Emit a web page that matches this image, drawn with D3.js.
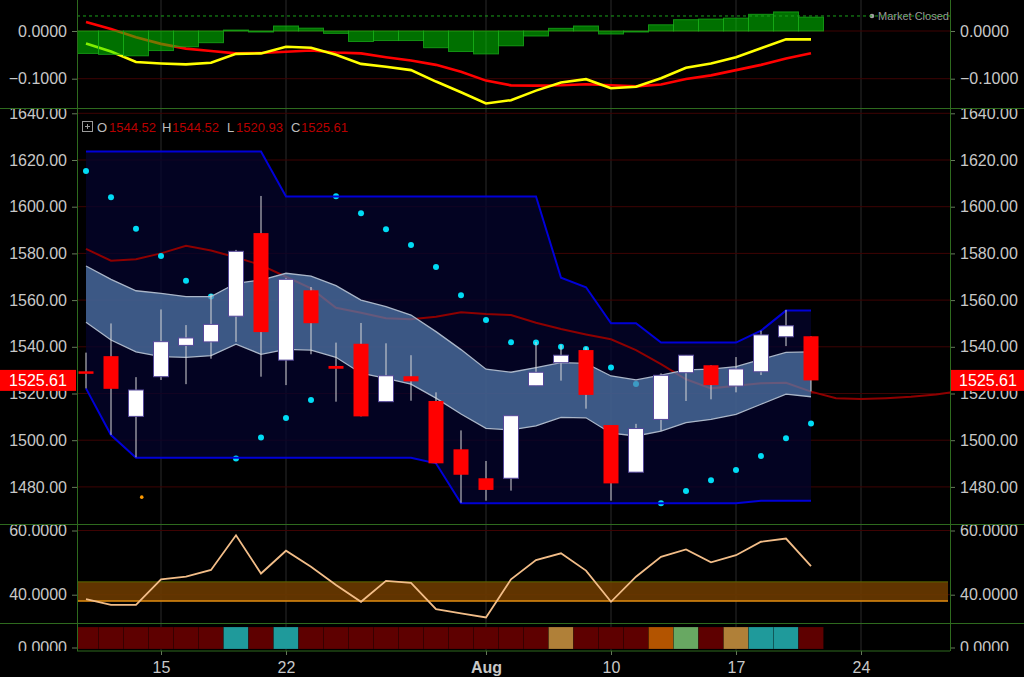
<!DOCTYPE html>
<html><head><meta charset="utf-8">
<script src="https://cdn.jsdelivr.net/npm/d3@7"></script>
<style>
html,body{margin:0;padding:0;background:#000;overflow:hidden}
svg{display:block;font-family:"Liberation Sans",Arial,sans-serif}
</style></head><body>
<svg id="c" width="1024" height="677"></svg>
<script>
// ---------------- DATA ----------------
const xTickIdx   = [3, 8, 16, 21, 26, 31];
const xTickLabel = ["15", "22", "Aug", "10", "17", "24"];

const openP  = [1529.5,1536.0,1510.2,1527.2,1540.6,1542.1,1553.1,1588.7,1534.3,1564.2,1531.8,1541.3,1516.5,1527.4,1516.8,1496.1,1483.7,1483.7,1523.3,1533.2,1538.6,1506.5,1486.3,1508.9,1528.9,1532.1,1523.2,1529.3,1544.3,1544.52];
const highP  = [1537.5,1550.0,1527.0,1556.0,1549.3,1562.6,1581.5,1604.6,1569.5,1565.6,1541.8,1550.2,1541.5,1536.4,1520.5,1504.2,1491.1,1510.5,1542.1,1540.8,1539.8,1506.5,1507.0,1528.6,1536.4,1532.1,1535.6,1546.9,1555.8,1544.52];
const lowP   = [1522.2,1502.3,1492.7,1525.8,1524.0,1534.9,1542.1,1527.2,1523.6,1536.8,1516.5,1510.2,1516.5,1516.9,1490.1,1473.2,1474.1,1478.4,1523.3,1525.5,1513.5,1474.1,1486.3,1504.0,1516.8,1517.5,1520.5,1527.9,1540.3,1520.93];
const closeP = [1528.5,1522.0,1521.5,1542.2,1543.8,1549.6,1580.9,1546.3,1568.9,1550.1,1530.6,1510.2,1527.6,1525.2,1490.1,1485.2,1478.7,1510.5,1529.1,1536.4,1519.4,1481.5,1505.0,1527.8,1536.4,1523.6,1530.5,1545.1,1549.0,1525.61];

const bbUpper = [1574.6,1568.9,1564.0,1562.9,1561.5,1561.5,1567.2,1568.6,1571.5,1570.3,1566.2,1560.0,1557.2,1553.6,1546.5,1538.8,1530.4,1529.1,1531.1,1533.2,1532.9,1527.5,1525.8,1527.9,1530.1,1530.4,1531.5,1534.6,1537.6,1537.8];
const bbLower = [1550.5,1542.9,1537.8,1535.8,1535.5,1536.2,1541.1,1536.8,1538.9,1538.6,1535.5,1528.7,1526.5,1524.0,1518.0,1511.2,1505.1,1504.4,1506.1,1509.8,1509.6,1503.0,1501.8,1503.9,1507.5,1508.9,1511.1,1515.4,1519.7,1518.6];

const dcUpper = [1623.6,1623.6,1623.6,1623.6,1623.6,1623.6,1623.6,1623.6,1604.4,1604.4,1604.4,1604.4,1604.4,1604.4,1604.4,1604.4,1604.4,1604.4,1604.4,1569.6,1565.5,1550.1,1550.1,1541.8,1541.8,1541.8,1541.8,1546.9,1555.5,1555.5];
const dcLower = [1522.2,1502.2,1492.5,1492.5,1492.5,1492.5,1492.5,1492.5,1492.5,1492.5,1492.5,1492.5,1492.5,1492.5,1490.1,1473.0,1473.0,1473.0,1473.0,1473.0,1473.0,1473.0,1473.0,1473.0,1473.0,1473.0,1473.0,1474.1,1474.1,1474.1];

const maLine = [1581.9,1576.9,1577.5,1580.0,1583.3,1581.2,1578.3,1575.0,1570.0,1565.0,1556.7,1554.6,1552.2,1551.8,1552.9,1554.8,1554.0,1553.6,1550.3,1547.6,1545.3,1543.2,1538.6,1532.6,1526.1,1522.2,1523.3,1524.4,1524.6,1520.8,1518.0,1517.6,1518.0,1518.6,1519.6,1521.0];

const sarDots = [1615.3,1604.0,1590.6,1578.9,1568.3,1561.5,1492.2,1501.2,1509.5,1517.2,1604.5,1597.2,1590.3,1583.6,1574.2,1562.1,1551.5,1541.9,1541.8,1540.0,1539.1,1531.1,1524.1,1473.0,1478.2,1482.9,1487.2,1493.2,1500.8,1507.2];

const eventIdx = [2.23];
const eventVal = [1475.6];

const macdLine   = [-0.026,-0.043,-0.065,-0.068,-0.070,-0.0665,-0.048,-0.047,-0.033,-0.035,-0.050,-0.069,-0.075,-0.082,-0.106,-0.1285,-0.152,-0.145,-0.125,-0.108,-0.101,-0.120,-0.117,-0.099,-0.077,-0.068,-0.055,-0.036,-0.0175,-0.0175];
const signalLine = [0.019,0.004,-0.013,-0.027,-0.037,-0.042,-0.047,-0.046,-0.0435,-0.041,-0.045,-0.047,-0.055,-0.062,-0.071,-0.0855,-0.104,-0.114,-0.1145,-0.1136,-0.1115,-0.1137,-0.116,-0.112,-0.1007,-0.093,-0.082,-0.071,-0.0575,-0.0465];
const macdHist   = [-0.047,-0.049,-0.052,-0.041,-0.033,-0.0245,0.002,-0.002,0.0105,0.006,-0.005,-0.022,-0.020,-0.020,-0.035,-0.043,-0.048,-0.031,-0.0105,0.0056,0.0105,-0.0063,-0.001,0.013,0.0237,0.025,0.027,0.035,0.040,0.029];
const macdRefLevel = 0.0315;

const oscLine = [38.6,36.8,36.8,44.8,45.6,47.7,58.5,46.6,53.7,48.7,43.0,37.8,44.3,43.7,35.5,34.2,32.9,44.8,50.8,52.9,47.5,37.8,45.6,51.8,54.1,50.1,52.3,56.5,57.5,48.9];
const oscBand = [38.0, 44.0];

const stripState = ["r","r","r","r","r","r","t","r","t","r","r","r","r","r","r","r","r","r","r","g","r","r","r","o","l","r","g","t","t","r"];

const priceTicks = [1480,1500,1520,1540,1560,1580,1600,1620,1640];
const macdTicks  = [0, -0.1];
const oscTicks   = [40, 60];
const stripTicks = [0];

// ---------------- LAYOUT ----------------
const W = 1024, H = 677, L = 77, R = 950;
const P = { top:[0,108.5], main:[108.5,524.5], osc:[524.5,623.5], strip:[623.5,651] };
const svg = d3.select("#c");
svg.append("rect").attr("width",W).attr("height",H).attr("fill","#000");

const x  = d3.scaleLinear().domain([-0.36, 34.56]).range([L, R]);
const yM = d3.scaleLinear().domain([0, -0.1]).range([31, 78.7]);
const yP = d3.scaleLinear().domain([1640, 1480]).range([113.3, 486.9]);
const yO = d3.scaleLinear().domain([60, 40]).range([530.5, 594.7]);
const yS = d3.scaleLinear().domain([0, 1]).range([647.5, 627]);

const defs = svg.append("defs");
function clip(id, x0, y0, w, h){
  defs.append("clipPath").attr("id",id).append("rect").attr("x",x0).attr("y",y0).attr("width",w).attr("height",h);
  return "url(#"+id+")";
}
const cTop = clip("cTop", L, P.top[0], R-L, P.top[1]-P.top[0]);
const cMain = clip("cMain", L, P.main[0], R-L, P.main[1]-P.main[0]);
const cOsc = clip("cOsc", L, P.osc[0], R-L, P.osc[1]-P.osc[0]);
const cStrip = clip("cStrip", L, P.strip[0], R-L, P.strip[1]-P.strip[0]);
const aTop = clip("aTop", 0, P.top[0], W, P.top[1]-P.top[0]);
const aMain = clip("aMain", 0, P.main[0], W, P.main[1]-P.main[0]);
const aOsc = clip("aOsc", 0, P.osc[0], W, P.osc[1]-P.osc[0]);
const aStrip = clip("aStrip", 0, P.strip[0], W, P.strip[1]-P.strip[0]);

const idx = d3.range(openP.length);
const GRID_H = "#3e0303", GRID_V = "#2a2a2a", BORDER = "#2e6a1e", TXT = "#c8c8c8";

function vgrid(g, y0, y1){
  g.selectAll(null).data(xTickIdx).join("line")
    .attr("x1",d=>x(d)).attr("x2",d=>x(d)).attr("y1",y0).attr("y2",y1)
    .attr("stroke",GRID_V).attr("stroke-width",1);
}
function hgrid(g, ticks, y){
  g.selectAll(null).data(ticks).join("line")
    .attr("x1",L).attr("x2",R).attr("y1",d=>y(d)).attr("y2",d=>y(d))
    .attr("stroke",GRID_H).attr("stroke-width",1);
}

// ============ TOP (MACD) PANEL ============
const gT = svg.append("g").attr("clip-path",cTop);
vgrid(gT, P.top[0], P.top[1]);
hgrid(gT, macdTicks, yM);
gT.append("path").datum(idx).attr("fill","none").attr("stroke","#ff0000").attr("stroke-width",2.6)
  .attr("d", d3.line().x(i=>x(i)).y(i=>yM(signalLine[i])));
gT.append("path").datum(idx).attr("fill","none").attr("stroke","#ffff00").attr("stroke-width",2.6)
  .attr("d", d3.line().x(i=>x(i)).y(i=>yM(macdLine[i])));
gT.selectAll(null).data(idx).join("rect")
  .attr("x",i=>x(i)-12.5).attr("width",25)
  .attr("y",i=>yM(Math.max(0,macdHist[i])))
  .attr("height",i=>Math.max(1,Math.abs(yM(macdHist[i])-yM(0))))
  .attr("fill","#00e000").attr("fill-opacity",0.5)
  .attr("stroke","#18a818").attr("stroke-width",1).attr("stroke-opacity",0.8);
gT.append("circle").attr("cx",872).attr("cy",yM(macdRefLevel)).attr("r",2.3).attr("fill","#a0a0a0");
gT.append("text").attr("x",878).attr("y",yM(macdRefLevel)).attr("dy","0.35em")
  .attr("font-size",11).attr("fill","#9a9a9a").text("Market Closed");
gT.append("line").attr("x1",L).attr("x2",R).attr("y1",yM(macdRefLevel)).attr("y2",yM(macdRefLevel))
  .attr("stroke","#1aa01a").attr("stroke-dasharray","3,3").attr("stroke-width",1);

// ============ MAIN PANEL ============
const gM = svg.append("g").attr("clip-path",cMain);
vgrid(gM, P.main[0], P.main[1]);
hgrid(gM, priceTicks, yP);
gM.append("path").datum(idx).attr("fill","#04042e").attr("fill-opacity",0.75)
  .attr("d", d3.area().x(i=>x(i)).y0(i=>yP(dcLower[i])).y1(i=>yP(dcUpper[i])));
gM.append("path").datum(d3.range(maLine.length)).attr("fill","none").attr("stroke","#8e0000").attr("stroke-width",2)
  .attr("d", d3.line().x(i=>x(i)).y(i=>yP(maLine[i])));
gM.selectAll(null).data(idx).join("circle")
  .attr("cx",i=>x(i)).attr("cy",i=>yP(sarDots[i])).attr("r",3).attr("fill","#00dcf5");
gM.append("path").datum(idx).attr("fill","rgb(85,125,175)").attr("fill-opacity",0.7)
  .attr("d", d3.area().x(i=>x(i)).y0(i=>yP(bbLower[i])).y1(i=>yP(bbUpper[i])));
[bbUpper, bbLower].forEach(arr=>{
  gM.append("path").datum(idx).attr("fill","none").attr("stroke","#aab6c8").attr("stroke-width",1.3)
    .attr("d", d3.line().x(i=>x(i)).y(i=>yP(arr[i])));
});
[dcUpper, dcLower].forEach(arr=>{
  gM.append("path").datum(idx).attr("fill","none").attr("stroke","#0000d8").attr("stroke-width",2)
    .attr("d", d3.line().x(i=>x(i)).y(i=>yP(arr[i])));
});
gM.selectAll(null).data(eventIdx).join("circle")
  .attr("cx",d=>x(d)).attr("cy",(d,k)=>yP(eventVal[k])).attr("r",1.8).attr("fill","#ff9a00");
gM.selectAll(null).data(idx).join("line")
  .attr("x1",i=>x(i)).attr("x2",i=>x(i)).attr("y1",i=>yP(highP[i])).attr("y2",i=>yP(lowP[i]))
  .attr("stroke","#d8d8d8").attr("stroke-width",1);
gM.selectAll(null).data(idx).join("rect")
  .attr("x",i=>x(i)-7.5).attr("width",15)
  .attr("y",i=>yP(Math.max(openP[i],closeP[i])))
  .attr("height",i=>Math.max(2.5,Math.abs(yP(openP[i])-yP(closeP[i]))))
  .attr("fill",i=>closeP[i]>=openP[i]?"#ffffff":"#ff0000")
  .attr("stroke",i=>closeP[i]>=openP[i]?"#55489a":"none").attr("stroke-width",1);

// legend
const last = openP.length-1;
const lg = svg.append("g");
lg.append("rect").attr("x",82.5).attr("y",121.5).attr("width",10).attr("height",10)
  .attr("fill","none").attr("stroke","#9a9a9a");
lg.append("line").attr("x1",85).attr("x2",90).attr("y1",126.5).attr("y2",126.5).attr("stroke","#9a9a9a");
lg.append("line").attr("x1",87.5).attr("x2",87.5).attr("y1",124).attr("y2",129).attr("stroke","#9a9a9a");
const legItems = [["O",openP[last],97,109],["H",highP[last],162,172],["L",lowP[last],227,236],["C",closeP[last],291,301]];
legItems.forEach(([k,v,xl,xv])=>{
  lg.append("text").attr("x",xl).attr("y",127).attr("dy","0.35em").attr("font-size",13).attr("fill","#bdbdbd").text(k);
  lg.append("text").attr("x",xv).attr("y",127).attr("dy","0.35em").attr("font-size",13).attr("fill","#b80000").text(d3.format(".2f")(v));
});

// ============ OSC PANEL ============
const gO = svg.append("g").attr("clip-path",cOsc);
vgrid(gO, P.osc[0], P.osc[1]);
hgrid(gO, oscTicks, yO);
gO.append("rect").attr("x",L).attr("width",R-L-2)
  .attr("y",yO(oscBand[1])).attr("height",yO(oscBand[0])-yO(oscBand[1]))
  .attr("fill","#6a3a00").attr("fill-opacity",0.9);
gO.append("line").attr("x1",L).attr("x2",R-2).attr("y1",yO(oscBand[1])).attr("y2",yO(oscBand[1]))
  .attr("stroke","#5c6a00").attr("stroke-width",1);
gO.append("line").attr("x1",L).attr("x2",R-2).attr("y1",yO(oscBand[0])).attr("y2",yO(oscBand[0]))
  .attr("stroke","#e08c10").attr("stroke-width",1.5);
gO.append("path").datum(idx).attr("fill","none").attr("stroke","#f2bd88").attr("stroke-width",1.8)
  .attr("d", d3.line().x(i=>x(i)).y(i=>yO(oscLine[i])));

// ============ STRIP PANEL ============
const stripColor = {r:"#5e0000", t:"#1f9a9b", g:"#b08038", o:"#b35400", l:"#68a862"};
const gS = svg.append("g").attr("clip-path",cStrip);
vgrid(gS, P.strip[0], P.strip[1]);
gS.selectAll(null).data(idx).join("rect")
  .attr("x",i=>x(i)-12.5).attr("width",25).attr("y",627).attr("height",22)
  .attr("fill",i=>stripColor[stripState[i]])
  .attr("stroke","#000").attr("stroke-opacity",0.18).attr("stroke-width",1);

// ============ AXES ============
function yAxes(scale, ticks, fmt, clipId){
  const wl = svg.append("g").attr("clip-path",clipId);
  const gl = wl.append("g").attr("transform",`translate(${L},0)`)
    .call(d3.axisLeft(scale).tickValues(ticks).tickFormat(fmt).tickSize(5).tickPadding(5));
  const wr = svg.append("g").attr("clip-path",clipId);
  const gr = wr.append("g").attr("transform",`translate(${R},0)`)
    .call(d3.axisRight(scale).tickValues(ticks).tickFormat(fmt).tickSize(5).tickPadding(5));
  [gl,gr].forEach(g=>{
    g.select(".domain").remove();
    g.selectAll(".tick line").attr("stroke","#667a5a");
    g.selectAll("text").attr("fill",TXT).attr("font-size",16).attr("font-family",'"Liberation Sans",Arial,sans-serif');
  });
}
yAxes(yM, macdTicks, d3.format(".4f"), aTop);
yAxes(yP, priceTicks, d3.format(".2f"), aMain);
yAxes(yO, oscTicks, d3.format(".4f"), aOsc);
yAxes(yS, stripTicks, d3.format(".4f"), aStrip);

const gx = svg.append("g").attr("transform","translate(0,651)")
  .call(d3.axisBottom(x).tickValues(xTickIdx).tickFormat((d,k)=>xTickLabel[k]).tickSize(4).tickPadding(7));
gx.select(".domain").remove();
gx.selectAll(".tick line").attr("stroke","#667a5a");
gx.selectAll("text").attr("fill",TXT).attr("font-size",16).attr("font-family",'"Liberation Sans",Arial,sans-serif')
  .attr("font-weight",(d,k)=>isNaN(+xTickLabel[k])?"bold":"normal");

// borders
const bd = svg.append("g").attr("stroke",BORDER).attr("stroke-width",1);
[P.top[1], P.main[1], P.osc[1]].forEach(yy=>bd.append("line").attr("x1",0).attr("x2",W).attr("y1",yy).attr("y2",yy));
bd.append("line").attr("x1",L).attr("x2",R).attr("y1",P.strip[1]).attr("y2",P.strip[1]);
[L+0.5, R+0.5].forEach(xx=>bd.append("line").attr("x1",xx).attr("x2",xx).attr("y1",0).attr("y2",P.strip[1]));

// last price labels
const lp = yP(closeP[last]);
[[0,76,38],[951,73,988]].forEach(([bx,bw,tx])=>{
  svg.append("rect").attr("x",bx).attr("y",lp-10.5).attr("width",bw).attr("height",21).attr("fill","#ff0000");
  svg.append("text").attr("x",tx).attr("y",lp).attr("dy","0.36em").attr("text-anchor","middle")
    .attr("font-size",16).attr("fill","#ffffff").text(d3.format(".2f")(closeP[last]));
});
</script>
</body></html>
